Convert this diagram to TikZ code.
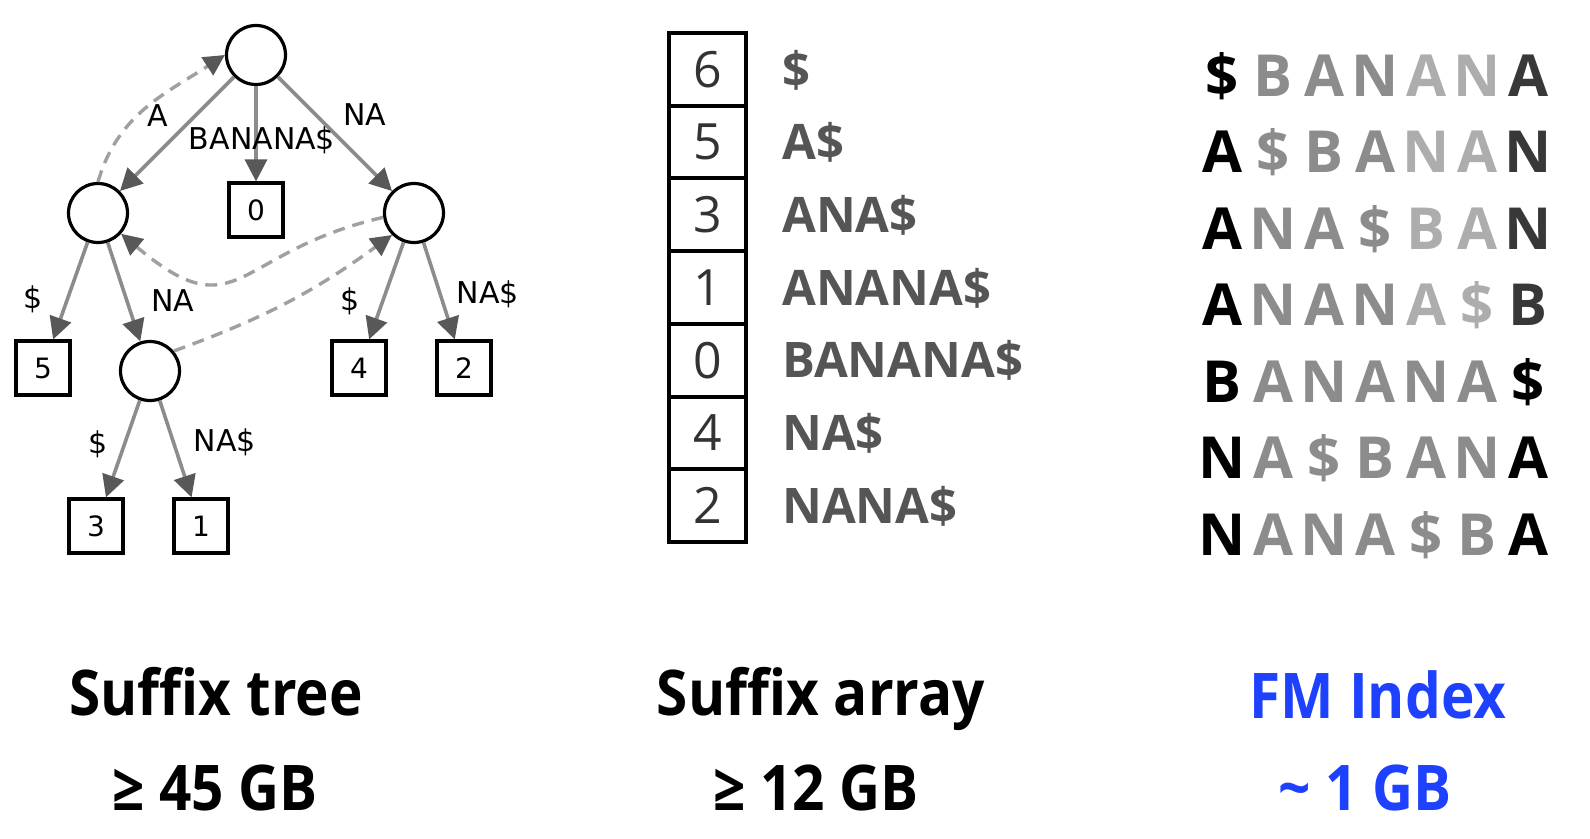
\documentclass[tikz,border=0pt]{standalone}
\usepackage{fontspec}
\setmainfont{Open Sans}
\newfontfamily\treefont{DejaVu Sans}
\newfontfamily\labelfont{Open Sans}[FakeStretch=0.9]
\usetikzlibrary{arrows.meta}
\definecolor{edgegray}{RGB}{140,140,140}
\definecolor{tipgray}{RGB}{88,88,88}
\definecolor{linkgray}{RGB}{160,160,160}
\definecolor{sagray}{RGB}{85,85,85}
\definecolor{fmblue}{RGB}{30,64,255}
\begin{document}
\begin{tikzpicture}[x=1pt,y=1pt]
        \tikzstyle{inner}=[circle,line width=3.2pt,draw=black,minimum size=59pt,inner sep=0pt]
        \tikzstyle{leaf}=[rectangle,line width=3.2pt,draw=black,minimum size=54pt,inner sep=0pt,font=\treefont\fontsize{28}{30}\selectfont]
        \tikzstyle{edge}=[draw,line width=3.6pt,edgegray,-{Triangle[length=22pt,width=22pt,color=tipgray]}]
        \tikzstyle{link}=[draw,line width=3.4pt,linkgray,dash pattern=on 12pt off 8pt,-{Triangle[length=21pt,width=21pt,color=tipgray]}]
        \tikzstyle{lbl}=[inner sep=0pt,font=\treefont\fontsize{30}{32}\selectfont]
        \tikzstyle{sabox}=[rectangle,draw=black,line width=4pt,minimum width=77pt,minimum height=72.7pt,inner sep=0pt,text=black!80,font=\fontsize{50}{52}\selectfont]
        \tikzstyle{suffix}=[anchor=base west,inner sep=0pt,text=sagray,font=\bfseries\fontsize{49}{50}\selectfont]
        \tikzstyle{fmchar}=[anchor=base,inner sep=0pt,font=\bfseries\fontsize{58}{60}\selectfont]
        \tikzstyle{title}=[anchor=base,inner sep=0pt,font=\labelfont\bfseries\fontsize{63}{66}\selectfont]
        \useasboundingbox (0,0) rectangle (1590,-838);
        \begin{scope}
         % suffix tree
         \node [inner] (root) at (256,-55) {};
         \node [inner] (lc) at (98,-213) {};
         \node [leaf] (b0) at (256,-210) {0};
         \node [inner] (rc) at (414,-213) {};
         \node [leaf] (b5) at (43,-368) {5};
         \node [inner] (na) at (150,-371) {};
         \node [leaf] (b4) at (359,-368) {4};
         \node [leaf] (b2) at (464,-368) {2};
         \node [leaf] (b3) at (96,-526) {3};
         \node [leaf] (b1) at (201,-526) {1};

         \path[edge] (root) to (lc);
         \path[edge] (root) to (b0);
         \path[edge] (root) to (rc);
         \path[edge] (lc) to (b5);
         \path[edge] (lc) to (na);
         \path[edge] (rc) to (b4);
         \path[edge] (rc) to (b2);
         \path[edge] (na) to (b3);
         \path[edge] (na) to (b1);

         \node [lbl] (l-a) at (158,-116) {A};
         \node [lbl] (l-banana) at (262,-140) {BANANA\$};
         \node [lbl] (l-na) at (365,-115) {NA};
         \node [lbl] (l-lc1) at (33,-299) {\$};
         \node [lbl] (l-lc2) at (173,-301) {NA};
         \node [lbl] (l-rc1) at (350,-301) {\$};
         \node [lbl] (l-rc2) at (488,-294) {NA\$};
         \node [lbl] (l-na1) at (98,-444) {\$};
         \node [lbl] (l-na2) at (225,-442) {NA\$};

         \path[link] (lc.north) to [out=74,in=213] (root.west);
         \path[link] (rc.188) to [out=193,in=-40,looseness=1.5] (lc.-42);
         \path[link] (na.40) to [bend right=8] (rc.225);
        \end{scope}

        % suffix array
        \foreach \v [count=\i] in {6,5,3,1,0,4,2}
          \node [sabox] (sa\i) at (707.5,{-69.4-72.7*(\i-1)}) {\v};
        \foreach \s [count=\i] in {\$,A\$,ANA\$,ANANA\$,BANANA\$,NA\$,NANA\$}
          \node [suffix] (suf\i) at (782,{-87-72.7*(\i-1)}) {\s};

        % FM index
        \foreach \row [count=\rw] in {{\$,B,A,N,A,N,A},{A,\$,B,A,N,A,N},{A,N,A,\$,B,A,N},{A,N,A,N,A,\$,B},{B,A,N,A,N,A,\$},{N,A,\$,B,A,N,A},{N,A,N,A,\$,B,A}}
          \foreach \ch [count=\col] in \row {
            \ifnum\col=1 \def\fmcol{black}\else
              \ifnum\col=7 \ifnum\rw<5 \def\fmcol{black!78}\else\def\fmcol{black}\fi
              \else \ifnum\rw<5 \ifnum\col>4 \def\fmcol{black!32}\else\def\fmcol{black!45}\fi
                \else\def\fmcol{black!45}\fi
              \fi
            \fi
            \node [fmchar,text=\fmcol] (fm\rw\col) at ({1222+51*(\col-1)},{-96-76.5*(\rw-1)}) {\ch};
          }

        % sizes
        \node [title] (st-title) at (216,-715) {Suffix tree};
        \node [title] (st-size) at (215,-810) {≥ 45 GB};
        \node [title] (sa-title) at (821,-715) {Suffix array};
        \node [title] (sa-size) at (816,-810) {≥ 12 GB};
        \node [title,text=fmblue] (fm-title) at (1378,-718) {FM Index};
        \node [title,text=fmblue] (fm-size) at (1365,-810) {\textasciitilde{} 1 GB};
\end{tikzpicture}
\end{document}
